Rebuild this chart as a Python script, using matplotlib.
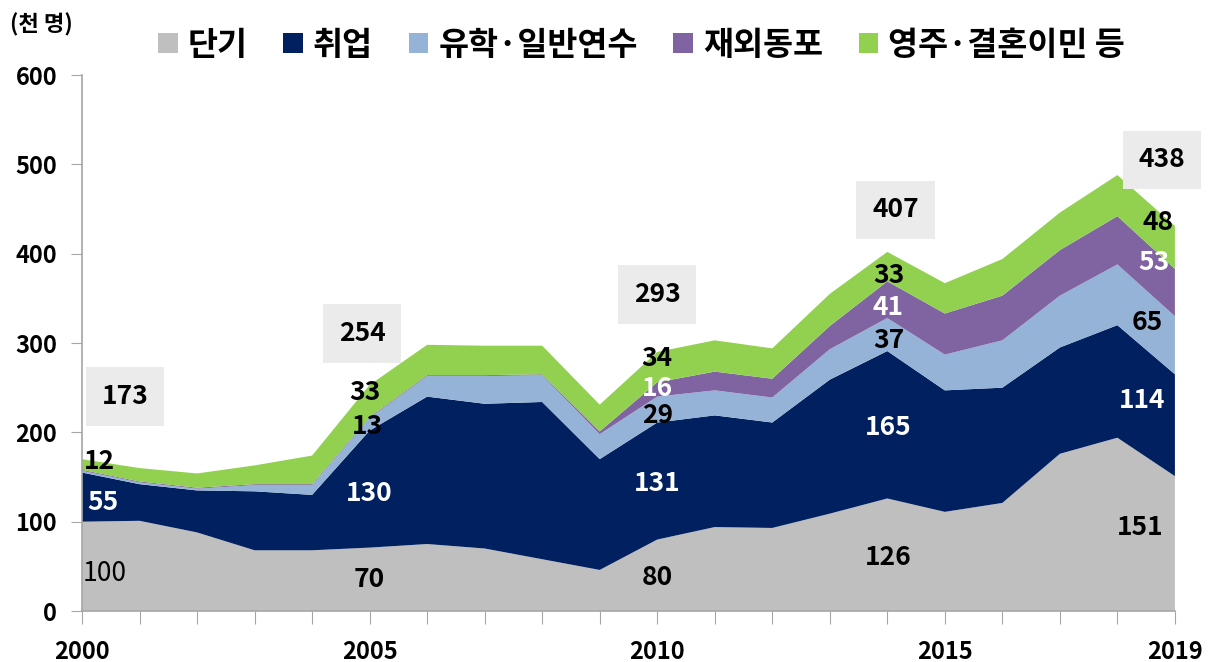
import numpy as np
import matplotlib.pyplot as plt
from matplotlib.patches import Patch

plt.rcParams['font.family'] = ['Noto Sans CJK KR', 'DejaVu Sans']

# Data (천 명)
years = list(range(2000, 2020))
short_term = [100, 101, 88, 68, 68, 71, 75, 70, 58, 46, 80, 94, 93, 109, 126, 111, 121, 176, 194, 151]
employment = [55, 41, 47, 66, 62, 131, 165, 162, 176, 124, 131, 125, 118, 150, 165, 136, 129, 119, 126, 114]
study = [2, 2, 2, 7, 11, 14, 23, 31, 30, 28, 29, 28, 28, 34, 37, 40, 53, 58, 68, 65]
overseas_korean = [1, 1, 1, 1, 1, 1, 1, 1, 1, 3, 16, 21, 21, 26, 41, 46, 50, 51, 54, 53]
residence_marriage = [12, 15, 16, 21, 32, 36, 34, 33, 32, 30, 34, 35, 34, 36, 33, 34, 41, 42, 46, 48]

series_names = ['단기', '취업', '유학·일반연수', '재외동포', '영주·결혼이민 등']
colors = ['#BFBFBF', '#002060', '#95B3D7', '#8064A2', '#92D050']

# labelled years: totals and component labels
label_years = [2000, 2005, 2010, 2014, 2019]
totals = [173, 254, 293, 407, 438]
label_short = ['100', '70', '80', '126', '151']
label_emp = ['55', '130', '131', '165', '114']
label_study = ['', '13', '29', '37', '65']
label_overseas = ['', '', '16', '41', '53']
label_res = ['12', '33', '34', '33', '48']

fig = plt.figure(figsize=(12.15, 6.62), dpi=100)
ax = fig.add_axes([0.0675, 0.077, 0.8995, 0.8097])

ax.stackplot(years, short_term, employment, study, overseas_korean, residence_marriage,
             colors=colors, linewidth=0)

ax.set_xlim(2000, 2019)
ax.set_ylim(0, 600)
ax.set_yticks(range(0, 601, 100))
ax.set_xticks(years)
ax.set_xticklabels([str(y) if y in (2000, 2005, 2010, 2015, 2019) else '' for y in years])

for s in ['top', 'right']:
    ax.spines[s].set_visible(False)
for s in ['left', 'bottom']:
    ax.spines[s].set_color('#A6A6A6')
    ax.spines[s].set_linewidth(1.2)
ax.tick_params(axis='y', direction='out', length=8, color='#A6A6A6', labelsize=17, pad=10)
ax.tick_params(axis='x', direction='out', length=9, color='#A6A6A6', labelsize=17, pad=12)
for t in ax.get_xticklabels() + ax.get_yticklabels():
    t.set_fontweight('bold')

# total boxes
box_pos = [(2000.75, 240), (2004.87, 311), (2010.0, 354), (2014.14, 449), (2018.78, 505)]
for (bx, by), tot in zip(box_pos, totals):
    ax.text(bx, by, str(tot), ha='center', va='center', fontsize=19, fontweight='bold',
            bbox=dict(boxstyle='square,pad=0.6', facecolor='#EBEBEB', edgecolor='none'))

# component labels positions
comp_pos = {
    2000: [(2000.4, 42), (2000.37, 121), None, None, (2000.3, 167)],
    2005: [(2005.0, 35), (2005.0, 132), (2004.96, 206), None, (2004.92, 245)],
    2010: [(2010.0, 38), (2010.0, 143), (2010.0, 219), (2010.0, 249), (2010.0, 283)],
    2014: [(2014.02, 60), (2014.02, 205), (2014.02, 303), (2014.02, 340), (2014.02, 376)],
    2019: [(2018.4, 94), (2018.43, 236), (2018.52, 323), (2018.63, 390), (2018.7, 435)],
}
text_colors = ['black', 'white', 'black', 'white', 'black']
for i, yr in enumerate(label_years):
    labs = [label_short[i], label_emp[i], label_study[i], label_overseas[i], label_res[i]]
    for j, lab in enumerate(labs):
        pos = comp_pos[yr][j]
        if pos is None or not lab:
            continue
        weight = 'medium' if (j == 0 and yr == 2000) else 'bold'
        ax.text(pos[0], pos[1], lab, ha='center', va='center', fontsize=19,
                fontweight=weight, color=text_colors[j])

fig.text(0.008, 0.962, '(천 명)', ha='left', va='center', fontsize=16, fontweight='bold')

handles = [Patch(facecolor=c, edgecolor='none') for c in colors]
fig.legend(handles, series_names, loc='center', bbox_to_anchor=(0.528, 0.932), ncol=5,
           frameon=False, prop={'weight': 'bold', 'size': 23.5},
           handlelength=0.6, handleheight=0.6, handletextpad=0.3, columnspacing=1.1)

fig.savefig('out.png', dpi=100)
